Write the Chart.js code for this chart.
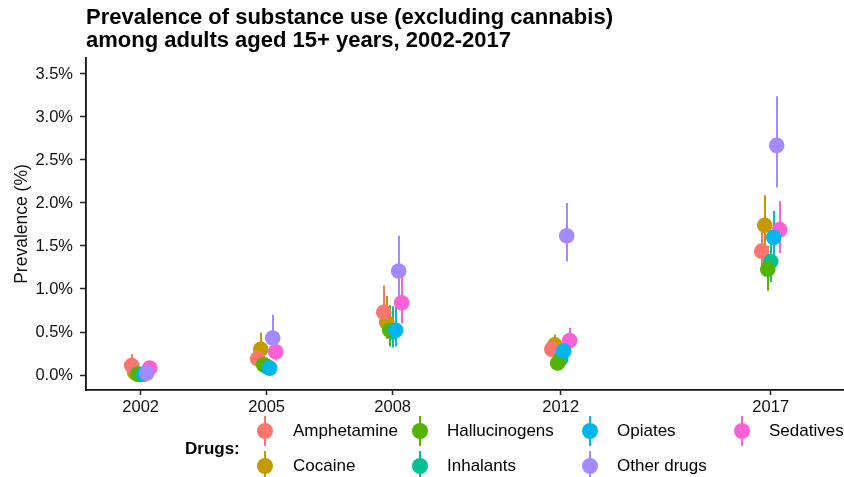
<!DOCTYPE html>
<html>
<head>
<meta charset="utf-8">
<script src="https://cdn.jsdelivr.net/npm/chart.js@4/dist/chart.umd.min.js"></script>
<style>
  html, body { margin: 0; padding: 0; background: #ffffff; }
  #wrap { position: relative; width: 844px; height: 477px; overflow: hidden;
          font-family: "Liberation Sans", Arial, sans-serif; color: #000; }
  #c { position: absolute; left: 0; top: 0; }
  .title { position: absolute; left: 86px; top: 6px; font-weight: bold; font-size: 22px;
           line-height: 22.5px; white-space: nowrap; }
  .lg-title { position: absolute; left: 185px; top: 439px; font-weight: bold; font-size: 17px;
              line-height: 20px; }
  .lg-item { position: absolute; height: 30px; }
  .lg-key { position: absolute; width: 16px; height: 30px; left: -8px; top: 0; }
  .lg-key .bar { position: absolute; left: 7px; top: 0; width: 2px; height: 30px; }
  .lg-key .dot { position: absolute; left: 0; top: 7px; width: 16px; height: 16px; border-radius: 50%; }
  .lg-text { position: absolute; font-size: 17px; line-height: 20px; white-space: nowrap; }
</style>
</head>
<body>
<div id="wrap">
  <canvas id="c" width="844" height="477"></canvas>
  <div class="title">Prevalence of substance use (excluding cannabis)<br>among adults aged 15+ years, 2002-2017</div>
  <div class="lg-title">Drugs:</div>
  <div id="legend"></div>
</div>
<script>
// Survey years and axis ticks
const years = [2002, 2005, 2008, 2012, 2017];
const yTickValues = [0, 0.5, 1.0, 1.5, 2.0, 2.5, 3.0, 3.5];

// Drug categories and their colours
const drugs = ["Amphetamine", "Cocaine", "Hallucinogens", "Inhalants", "Opiates", "Other drugs", "Sedatives"];
const drugColors = ["#F8766D", "#C49A00", "#53B400", "#00C094", "#00B6EB", "#A58AFF", "#FB61D7"];

// Prevalence estimates (%) with lower / upper interval bounds, one value per year
const amphetamine     = [0.11, 0.19, 0.73, 0.30, 1.44];
const amphetamineLow  = [0.03, 0.12, 0.50, 0.22, 1.18];
const amphetamineHigh = [0.24, 0.28, 1.04, 0.40, 1.73];

const cocaine     = [0.03, 0.30, 0.61, 0.35, 1.74];
const cocaineLow  = [0.01, 0.18, 0.42, 0.25, 1.43];
const cocaineHigh = [0.09, 0.49, 0.92, 0.47, 2.09];

const hallucinogens     = [0.01, 0.12, 0.52, 0.14, 1.23];
const hallucinogensLow  = [0.00, 0.06, 0.33, 0.09, 0.98];
const hallucinogensHigh = [0.04, 0.20, 0.81, 0.22, 1.50];

const inhalants     = [0.005, 0.10, 0.50, 0.19, 1.32];
const inhalantsLow  = [0.00, 0.05, 0.32, 0.12, 1.08];
const inhalantsHigh = [0.03, 0.20, 0.80, 0.27, 1.58];

const opiates     = [0.01, 0.08, 0.52, 0.28, 1.60];
const opiatesLow  = [0.00, 0.04, 0.33, 0.19, 1.33];
const opiatesHigh = [0.05, 0.14, 0.79, 0.38, 1.91];

const otherDrugs     = [0.02, 0.43, 1.21, 1.62, 2.67];
const otherDrugsLow  = [0.00, 0.25, 0.86, 1.32, 2.18];
const otherDrugsHigh = [0.06, 0.70, 1.62, 2.00, 3.24];

const sedatives     = [0.08, 0.27, 0.84, 0.40, 1.69];
const sedativesLow  = [0.03, 0.17, 0.60, 0.28, 1.42];
const sedativesHigh = [0.14, 0.38, 1.14, 0.55, 2.02];

const estimates = [amphetamine, cocaine, hallucinogens, inhalants, opiates, otherDrugs, sedatives];
const lows  = [amphetamineLow, cocaineLow, hallucinogensLow, inhalantsLow, opiatesLow, otherDrugsLow, sedativesLow];
const highs = [amphetamineHigh, cocaineHigh, hallucinogensHigh, inhalantsHigh, opiatesHigh, otherDrugsHigh, sedativesHigh];

// Horizontal dodge between drugs within a year (in years)
const DODGE = 0.0714;
// Stacking of overlapping points (lower number drawn on top)
const drawOrder = [6, 7, 3, 4, 2, 1, 5];

const datasets = drugs.map((name, i) => ({
  label: name,
  data: years.map((yr, j) => ({ x: yr + (i - 3) * DODGE, y: estimates[i][j], lo: lows[i][j], hi: highs[i][j] })),
  backgroundColor: drugColors[i],
  borderWidth: 0,
  pointRadius: 7.8,
  pointHoverRadius: 7.8,
  order: drawOrder[i],
  showLine: false
}));

// Interval lines, drawn beneath all points
const rangePlugin = {
  id: 'pointRange',
  beforeDatasetsDraw(chart) {
    const ctx = chart.ctx;
    const xs = chart.scales.x, ys = chart.scales.y;
    ctx.save();
    ctx.lineWidth = 2;
    chart.data.datasets.forEach(ds => {
      ctx.strokeStyle = ds.backgroundColor;
      ds.data.forEach(p => {
        const px = Math.round(xs.getPixelForValue(p.x));
        ctx.beginPath();
        ctx.moveTo(px, ys.getPixelForValue(p.lo));
        ctx.lineTo(px, ys.getPixelForValue(p.hi));
        ctx.stroke();
      });
    });
    ctx.restore();
  }
};

const tickFont = { family: '"Liberation Sans", Arial, sans-serif', size: 16.5 };

new Chart(document.getElementById('c'), {
  type: 'scatter',
  data: { datasets },
  plugins: [rangePlugin],
  options: {
    responsive: false,
    devicePixelRatio: 1,
    animation: false,
    events: [],
    layout: { autoPadding: false, padding: { top: 58, left: 0, right: 0, bottom: 0 } },
    plugins: { legend: { display: false }, tooltip: { enabled: false }, title: { display: false } },
    scales: {
      x: {
        type: 'linear',
        min: 2000.698,
        max: 2018.745,
        afterBuildTicks: s => { s.ticks = years.map(v => ({ value: v })); },
        afterFit: s => { s.height = 87; s.paddingLeft = 0; s.paddingRight = 0; },
        ticks: { font: tickFont, color: '#111', padding: 3, autoSkip: false, maxRotation: 0,
                 callback: v => String(v) },
        grid: { drawOnChartArea: false, drawTicks: true, tickLength: 5, tickWidth: 1.5, tickColor: '#222' },
        border: { display: true, color: '#111', width: 1.8 }
      },
      y: {
        type: 'linear',
        min: -0.1744,
        max: 3.686,
        afterBuildTicks: s => { s.ticks = yTickValues.map(v => ({ value: v })); },
        afterFit: s => { s.width = 86; s.paddingTop = 0; s.paddingBottom = 0; },
        ticks: { font: tickFont, color: '#111', padding: 7,
                 callback: v => v.toFixed(1) + '%' },
        grid: { drawOnChartArea: false, drawTicks: true, tickLength: 6, tickWidth: 1.5, tickColor: '#222' },
        border: { display: true, color: '#111', width: 1.8 },
        title: { display: true, text: 'Prevalence (%)', color: '#111',
                 font: { family: '"Liberation Sans", Arial, sans-serif', size: 17.5 },
                 padding: { top: 12, bottom: 0 } }
      }
    }
  }
});

// Legend: two rows, filled column by column
const legendPos = [
  [265, 431, 293], [265, 466, 293],
  [420, 431, 447], [420, 466, 447],
  [590, 431, 617], [590, 466, 617],
  [742, 431, 769]
];
const legend = document.getElementById('legend');
drugs.forEach((name, i) => {
  const [kx, ky, tx] = legendPos[i];
  const key = document.createElement('div');
  key.className = 'lg-item';
  key.style.left = kx + 'px';
  key.style.top = (ky - 15) + 'px';
  key.innerHTML = '<div class="lg-key"><div class="bar" style="background:' + drugColors[i] +
    '"></div><div class="dot" style="background:' + drugColors[i] + '"></div></div>';
  legend.appendChild(key);
  const txt = document.createElement('div');
  txt.className = 'lg-text';
  txt.style.left = tx + 'px';
  txt.style.top = (ky - 10) + 'px';
  txt.textContent = name;
  legend.appendChild(txt);
});
</script>
</body>
</html>
